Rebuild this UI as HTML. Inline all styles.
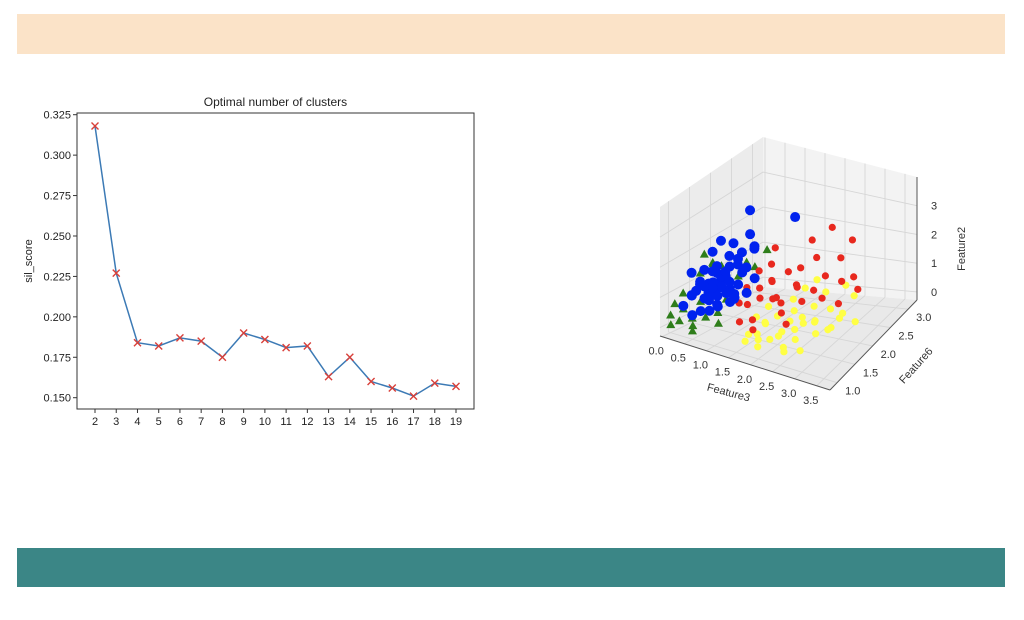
<!DOCTYPE html>
<html><head><meta charset="utf-8"><style>
body{margin:0;background:#fff;width:1024px;height:620px;overflow:hidden;font-family:"Liberation Sans","DejaVu Sans",sans-serif}
#top{position:absolute;left:17px;top:14px;width:988px;height:40px;background:#fbe3c8}
#bot{position:absolute;left:17px;top:548px;width:988px;height:39px;background:#3b8686}
svg{position:absolute;left:0;top:0}
</style></head><body>
<div id="top"></div>
<div id="bot"></div>
<svg id="s" width="1024" height="620"></svg>
<script>
const ks=[2,3,4,5,6,7,8,9,10,11,12,13,14,15,16,17,18,19];
const scores=[0.318,0.227,0.184,0.182,0.187,0.185,0.175,0.190,0.186,0.181,0.182,0.163,0.175,0.160,0.156,0.151,0.159,0.157];
const yTicks=[0.150,0.175,0.200,0.225,0.250,0.275,0.300,0.325];
const f3Ticks=[0,0.5,1,1.5,2,2.5,3,3.5];
const f6Ticks=[1,1.5,2,2.5,3];
const f2Ticks=[0,1,2,3];
const blue=[[0.3,1.6,1.0],[0.5,1.7,1.1],[0.4,1.5,0.8],[0.6,1.6,1.0],[0.2,1.8,1.2],[0.7,1.7,0.9],[0.5,1.4,0.7],[0.3,1.3,1.0],[0.8,1.9,1.3],[0.6,2.0,1.4],[0.4,2.0,1.6],[0.2,1.7,0.6],[0.9,1.6,0.9],[0.5,1.2,0.5],[0.1,1.6,0.9],[0.7,1.4,1.2],[1.0,1.8,0.8],[0.3,2.2,1.8],[0.6,2.3,2.1],[0.1,1.9,1.7],[0.8,1.3,0.7],[0.4,1.7,1.3],[0.6,1.8,1.5],[1.0,2.0,1.1],[0.2,1.3,0.8],[0.8,2.2,1.8],[0.4,2.5,2.6],[1.3,2.7,2.5],[0.4,1.1,0.4],[0.3,1.8,1.4],[0.7,1.8,0.5],[1.0,1.5,0.9],[0.0,1.5,1.3],[0.5,1.6,0.4],[0.9,1.4,1.1],[0.4,1.6,0.7],[0.6,1.7,1.2],[0.2,1.5,1.1],[0.8,1.6,0.6],[0.3,1.9,1.0],[0.5,1.9,0.9],[0.4,1.4,1.1],[0.6,1.5,0.8],[0.7,1.6,1.4],[0.3,1.5,0.6],[0.5,1.8,1.3],[0.2,1.6,1.4],[0.8,1.8,1.0],[0.6,1.3,0.9],[0.4,1.8,0.8],[0.1,1.4,0.7],[0.9,1.9,1.5],[0.5,1.5,1.2],[0.7,1.9,1.7],[0.3,1.7,0.8],[0.6,2.1,1.7],[0.2,2.0,2.0],[0.9,2.1,2.0],[0.1,1.2,0.5],[0.7,1.2,0.6]];
const green=[[0.1,1.2,0.4],[0.2,1.0,0.2],[0.0,1.3,0.8],[0.4,1.1,0.3],[0.3,1.4,1.5],[0.6,1.6,1.7],[0.2,1.5,1.0],[0.8,1.3,0.5],[1.0,1.8,1.8],[0.5,1.0,0.0],[0.1,0.9,0.1],[0.7,1.2,1.2],[0.3,1.7,1.6],[0.9,1.4,0.9],[0.0,1.1,0.6],[1.1,1.9,1.6],[0.4,1.3,0.7],[0.6,0.9,0.3],[0.2,1.6,1.9],[1.0,1.1,0.4],[1.2,2.1,2.0],[0.0,1.0,0.3],[0.8,1.0,0.6],[0.9,1.7,1.4],[0.5,1.5,1.8]];
const yellow=[[1.8,1.4,0.5],[2.0,1.5,0.7],[2.2,1.3,0.3],[2.4,1.7,0.6],[2.6,1.8,0.4],[2.8,2.0,0.7],[1.6,1.2,0.2],[2.3,1.6,0.9],[2.5,1.4,0.2],[3.0,2.1,0.5],[1.9,1.1,0.0],[2.1,1.8,1.0],[2.6,2.1,1.1],[3.1,2.3,0.9],[2.4,1.2,0.1],[1.7,1.6,0.8],[2.8,1.6,0.3],[2.9,1.9,0.2],[2.0,1.0,0.4],[2.2,2.0,1.2],[3.1,1.9,0.6],[2.5,1.9,0.8],[1.6,1.4,0.6],[2.7,1.3,0.0],[2.9,2.3,1.2],[2.3,2.2,1.3],[1.9,1.3,0.6],[2.5,1.1,0.1],[3.3,2.1,0.3],[2.1,1.5,0.2],[2.2,1.6,0.5],[2.7,1.7,0.6],[1.8,1.2,0.3],[3.0,1.7,0.4],[2.4,1.5,0.4],[2.0,1.3,0.1],[2.6,1.5,0.7],[1.7,1.0,0.2]];
const red=[[1.4,1.7,1.2],[1.6,1.8,1.4],[1.8,2.0,1.6],[1.5,1.6,1.0],[2.0,2.1,1.7],[2.2,2.3,1.9],[1.7,1.8,0.9],[2.1,1.9,1.3],[2.5,2.2,1.5],[1.3,1.5,0.8],[1.9,2.1,1.1],[2.6,2.5,1.8],[2.3,1.8,1.0],[1.2,1.9,1.5],[2.8,2.3,1.3],[1.6,1.3,0.6],[2.0,2.4,2.3],[2.3,2.6,2.6],[1.3,2.2,2.0],[3.0,2.4,1.4],[2.6,2.0,1.0],[1.1,1.7,1.1],[1.9,1.7,0.9],[2.9,2.1,0.8],[1.7,1.2,0.4],[2.7,2.7,2.2],[1.4,2.0,1.7],[2.2,1.5,0.5],[3.1,2.4,1.0],[1.3,1.3,0.4],[1.5,1.9,1.3],[1.8,1.6,1.1],[2.4,2.0,1.2],[1.2,1.4,0.9],[2.0,1.6,0.7]];

const S=document.getElementById('s'),NS='http://www.w3.org/2000/svg';
function el(t,a,txt){const e=document.createElementNS(NS,t);for(const k in a)e.setAttribute(k,a[k]);if(txt!==undefined)e.textContent=txt;S.appendChild(e);return e;}
// ---- left chart
const L=77,R=474,T=113,B=409;
const sx=k=>95+(k-2)*(456-95)/17;
const sy=v=>397.7-(v-0.150)*(397.7-114.7)/0.175;
let t=el('text',{x:(L+R)/2,y:106,'text-anchor':'middle','font-size':12,fill:'#222'},'Optimal number of clusters');


let ax=el('rect',{x:L,y:T,width:R-L,height:B-T,fill:'none',stroke:'#333','stroke-width':1});


yTicks.forEach(v=>{el('line',{x1:L-4,x2:L,y1:sy(v),y2:sy(v),stroke:'#333'});
 const e=el('text',{x:L-6,y:sy(v)+4,'text-anchor':'end','font-size':11,fill:'#222'},v.toFixed(3));
 
 });
ks.forEach(k=>{el('line',{x1:sx(k),x2:sx(k),y1:B,y2:B+4,stroke:'#333'});
 const e=el('text',{x:sx(k),y:B+16,'text-anchor':'middle','font-size':11,fill:'#222'},k);
 
 });
t=el('text',{x:32,y:261,'text-anchor':'middle','font-size':11,fill:'#222',transform:'rotate(-90 32 261)'},'sil_score');


const ln=el('polyline',{points:ks.map((k,i)=>sx(k)+','+sy(scores[i])).join(' '),fill:'none',stroke:'#3c7ab5','stroke-width':1.5});


ks.forEach((k,i)=>{const x=sx(k),y=sy(scores[i]);
 const m=el('path',{d:`M${x-3.5},${y-3.5}L${x+3.5},${y+3.5}M${x-3.5},${y+3.5}L${x+3.5},${y-3.5}`,stroke:'#d9403a','stroke-width':1.4});
 
 });
// ---- 3D chart
const FL=[660,336],FR=[830,390],BR=[917,300],BL=[763,287];
const H={FL:129,FR:112,BR:123,BL:150};
const X0=-0.05,X1=3.8,Y0=0.8,Y1=3.25,Z0=-0.28,Z1=4.0;
function P(x,y,z){const u=(x-X0)/(X1-X0),v=(y-Y0)/(Y1-Y0),w=(z-Z0)/(Z1-Z0);
 const a=(1-u)*(1-v),b=u*(1-v),c=u*v,d=(1-u)*v;
 const px=a*FL[0]+b*FR[0]+c*BR[0]+d*BL[0];
 const py=a*FL[1]+b*FR[1]+c*BR[1]+d*BL[1];
 const h=a*H.FL+b*H.FR+c*H.BR+d*H.BL;
 return [px,py-w*h];}
const pt=p=>p[0].toFixed(1)+','+p[1].toFixed(1);
function poly(ps,fill,name){const e=el('polygon',{points:ps.map(pt).join(' '),fill:fill});
 
 }
poly([P(X0,Y0,Z0),P(X0,Y1,Z0),P(X0,Y1,Z1),P(X0,Y0,Z1)],'#ececec','left-pane');
poly([P(X0,Y1,Z0),P(X1,Y1,Z0),P(X1,Y1,Z1),P(X0,Y1,Z1)],'#f3f3f3','back-pane');
poly([P(X0,Y0,Z0),P(X1,Y0,Z0),P(X1,Y1,Z0),P(X0,Y1,Z0)],'#e9e9e9','floor-pane');
const g=(a,b)=>el('line',{x1:a[0],y1:a[1],x2:b[0],y2:b[1],stroke:'#d6d6d6','stroke-width':0.9});
f3Ticks.forEach(x=>{g(P(x,Y0,Z0),P(x,Y1,Z0));g(P(x,Y1,Z0),P(x,Y1,Z1));});
f6Ticks.forEach(y=>{g(P(X0,y,Z0),P(X1,y,Z0));g(P(X0,y,Z0),P(X0,y,Z1));});
f2Ticks.forEach(z=>{g(P(X0,Y0,z),P(X0,Y1,z));g(P(X0,Y1,z),P(X1,Y1,z));});
const ax3=(a,b)=>el('line',{x1:a[0],y1:a[1],x2:b[0],y2:b[1],stroke:'#555','stroke-width':1});
ax3(P(X0,Y0,Z0),P(X1,Y0,Z0));ax3(P(X1,Y0,Z0),P(X1,Y1,Z0));ax3(P(X1,Y1,Z0),P(X1,Y1,Z1));
function lab(p,s,name,anchor){const e=el('text',{x:p[0],y:p[1],'text-anchor':anchor||'middle','font-size':11,fill:'#333'},s);
 
 }
f3Ticks.forEach(x=>{const p=P(x,Y0,Z0);lab([p[0]-6,p[1]+18],x.toFixed(1),'feature3-tick');});
f6Ticks.forEach(y=>{const p=P(X1,y,Z0);lab([p[0]+8,p[1]+12],y.toFixed(1),'feature6-tick','start');});
f2Ticks.forEach(z=>{const p=P(X1,Y1,z);lab([p[0]+14,p[1]+4],z,'feature2-tick','start');});
let p=P(1.8,Y0,Z0);el('text',{x:p[0]-14,y:p[1]+34,'text-anchor':'middle','font-size':11,fill:'#333',transform:`rotate(15 ${p[0]-14} ${p[1]+34})`},'Feature3');
p=P(X1,2.0,Z0);el('text',{x:p[0]+46,y:p[1]+22,'text-anchor':'middle','font-size':11,fill:'#333',transform:`rotate(-48 ${p[0]+46} ${p[1]+22})`},'Feature6');
p=P(X1,Y1,1.5);el('text',{x:p[0]+48,y:p[1],'text-anchor':'middle','font-size':11,fill:'#333',transform:`rotate(-90 ${p[0]+48} ${p[1]})`},'Feature2');
function dots(arr,col,name,tri){arr.forEach(d=>{const q=P(d[0],d[1],d[2]);let e;
 if(tri)e=el('polygon',{points:`${q[0]},${q[1]-4.5} ${q[0]-4.5},${q[1]+3.5} ${q[0]+4.5},${q[1]+3.5}`,fill:col});
 else e=el('circle',{cx:q[0],cy:q[1],r:name==='cluster-blue'?5:3.6,fill:col});
 
 });}
dots(green,'#2e7d1a','cluster-green',true);
dots(yellow,'#ffff44','cluster-yellow');
dots(red,'#e8281e','cluster-red');
dots(blue,'#0022ee','cluster-blue');
</script>
</body></html>
